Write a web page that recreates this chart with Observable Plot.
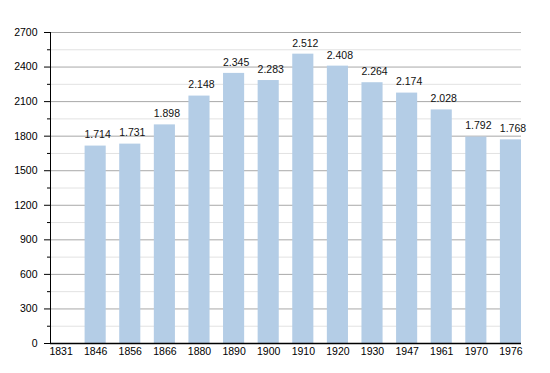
<!DOCTYPE html>
<html>
<head>
<meta charset="utf-8">
<script src="https://cdn.jsdelivr.net/npm/d3@7"></script>
<script src="https://cdn.jsdelivr.net/npm/@observablehq/plot@0.6"></script>
<style>
  html, body { margin: 0; padding: 0; background: #fff; }
  svg { font-family: "Liberation Sans", Arial, sans-serif; }
</style>
</head>
<body>
<div id="chart"></div>
<script>
const years = ["1831","1846","1856","1866","1880","1890","1900","1910","1920","1930","1947","1961","1970","1976"];
const population = [null,1714,1731,1898,2148,2345,2283,2512,2408,2264,2174,2028,1792,1768];
const majorTicks = [0,300,600,900,1200,1500,1800,2100,2400,2700];
const minorTicks = [150,450,750,1050,1350,1650,1950,2250,2550];

const data = years.map((y, i) => ({year: y, pop: population[i]})).filter(d => d.pop != null);
const fmt = d3.formatLocale({thousands: ".", grouping: [3], decimal: ","}).format(",");

const chart = Plot.plot({
  width: 550,
  height: 373,
  marginLeft: 50,
  marginRight: 29,
  marginTop: 32,
  marginBottom: 30,
  style: {fontSize: "10px", fontFamily: "Liberation Sans, Arial, sans-serif", color: "#000", background: "#fff"},
  x: {domain: years, paddingInner: 0.39, paddingOuter: 0, round: false, label: null},
  y: {domain: [0, 2700], label: null},
  marks: [
    Plot.ruleY(minorTicks, {stroke: "#e2e2e2", strokeWidth: 1}),
    Plot.ruleY(majorTicks, {stroke: "#a8a8a8", strokeWidth: 1}),
    Plot.barY(data, {x: "year", y: "pop", fill: "#b4cde6"}),
    Plot.text(data, {x: "year", y: "pop", text: d => fmt(d.pop), dy: -11, dx: 2, fontSize: 10.5, fill: "#111"}),
    Plot.axisY(majorTicks, {tickSize: 6, tickPadding: 7, fontSize: 10.5, tickFormat: d => String(d), label: null}),
    Plot.axisY(minorTicks, {tickSize: 3, tickFormat: () => "", label: null}),
    Plot.axisX({tickSize: 0, tickPadding: 4, fontSize: 10.5, label: null}),
    Plot.frame({anchor: "left", stroke: "#000"}),
    Plot.ruleY([0], {stroke: "#000", strokeWidth: 1.5})
  ]
});
document.getElementById("chart").append(chart);
</script>
</body>
</html>
